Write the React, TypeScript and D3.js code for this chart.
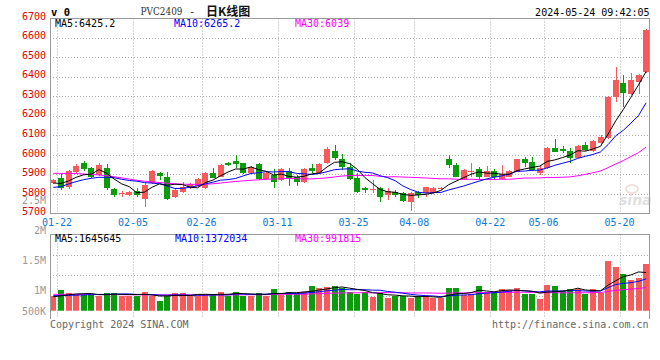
import React from 'react';
import * as d3 from 'd3';

const dates = [
  '01-22','01-23','01-24','01-25','01-26','01-29','01-30','01-31','02-01','02-02',
  '02-05','02-06','02-07','02-08','02-19','02-20','02-21','02-22','02-23','02-26',
  '02-27','02-28','02-29','03-01','03-04','03-05','03-06','03-07','03-08','03-11',
  '03-12','03-13','03-14','03-15','03-18','03-19','03-20','03-21','03-22','03-25',
  '03-26','03-27','03-28','03-29','04-01','04-02','04-03','04-08','04-09','04-10',
  '04-11','04-12','04-15','04-16','04-17','04-18','04-19','04-22','04-23','04-24',
  '04-25','04-26','04-29','04-30','05-06','05-07','05-08','05-09','05-10','05-13',
  '05-14','05-15','05-16','05-17','05-20','05-21','05-22','05-23','05-24'
];

const openP = [
  5854,5880,5837,5911,5957,5931,5897,5931,5824,5801,
  5795,5817,5772,5854,5905,5888,5783,5808,5837,5842,
  5829,5905,5888,5960,5970,5957,5905,5952,5876,5899,
  5871,5919,5885,5861,5931,5905,5957,6021,5979,5936,
  5883,5829,5820,5829,5795,5808,5803,5760,5812,5803,
  5803,5827,5977,5948,5877,5917,5926,5888,5919,5875,
  5888,5914,5979,5962,5906,5931,6037,6028,6020,5986,
  6050,6020,6062,6085,6298,6369,6311,6374,6422
];
const highP = [
  5876,5905,5923,5953,5969,5940,5957,5953,5829,5817,
  5817,5829,5854,5920,5910,5910,5829,5863,5855,5880,
  5914,5931,5952,5962,5999,5960,5945,5957,5910,5926,
  5934,5931,5897,5931,5953,5957,6042,6050,6003,5957,
  5905,5837,5871,5837,5829,5820,5812,5812,5817,5837,
  5834,5837,5999,5957,5926,5957,5940,5943,5926,5948,
  5920,5980,5987,5987,5945,6040,6081,6047,6037,6050,
  6064,6074,6102,6302,6448,6408,6417,6412,6644
];
const lowP = [
  5849,5820,5827,5909,5919,5880,5893,5820,5786,5786,
  5790,5786,5735,5850,5871,5771,5778,5803,5825,5837,
  5825,5880,5885,5943,5931,5900,5900,5871,5871,5832,
  5866,5841,5842,5856,5905,5900,5952,5974,5922,5871,
  5803,5803,5803,5760,5769,5786,5760,5714,5778,5786,
  5800,5820,5931,5885,5873,5888,5871,5885,5871,5871,
  5885,5911,5940,5919,5897,5928,6013,6008,5960,5983,
  6021,6016,6050,6080,6272,6247,6305,6311,6420
];
const closeP = [
  5871,5829,5919,5943,5928,5885,5948,5829,5793,5803,
  5812,5793,5846,5917,5892,5774,5820,5837,5849,5876,
  5909,5883,5948,5946,5953,5905,5940,5876,5905,5859,
  5928,5880,5859,5926,5919,5953,6030,5982,5936,5875,
  5808,5820,5825,5786,5817,5795,5764,5803,5795,5834,
  5829,5829,5948,5888,5923,5919,5885,5917,5885,5900,
  5917,5977,5960,5923,5935,6037,6016,6020,5986,6047,
  6025,6071,6090,6298,6383,6318,6383,6408,6639
];
const volumes = [
  648000,894000,779000,678000,678000,678000,648000,779000,779000,648000,
  648000,648000,807000,648000,420000,648000,779000,779000,648000,648000,
  678000,736000,821000,648000,821000,648000,648000,779000,648000,951000,
  678000,821000,779000,821000,1079000,965000,1036000,1065000,965000,821000,
  707000,793000,605000,779000,549000,634000,634000,549000,634000,620000,
  540000,540000,980000,980000,670000,740000,1050000,810000,810000,920000,
  880000,980000,710000,710000,520000,1090000,1050000,850000,920000,937000,
  707000,937000,779000,2142000,1884000,1582000,1323000,1424000,2013000
];

// moving-average values before enough bars are visible
const ma5Head = [5856, 5854, 5866, 5885];
const ma10Head = [5834, 5837, 5851, 5863, 5873, 5880, 5885, 5885, 5883];
const ma30Head = [5906, 5905, 5905, 5904, 5902, 5900, 5897, 5893, 5888, 5882, 5876, 5870, 5865, 5862, 5858, 5855, 5852, 5850, 5849, 5849, 5850, 5852, 5856, 5860, 5864, 5867, 5870, 5872, 5875];
const volMa5Head = [603000, 640000, 690000, 720000];
const volMa10Head = [647000, 650000, 660000, 670000, 680000, 690000, 700000, 705000, 712000];
const volMa30Head = [707000, 705000, 704000, 701000, 699000, 697000, 695000, 694000, 691000, 689000, 687000, 685000, 684000, 683000, 682000, 681000, 680000, 680000, 680000, 680000, 681000, 682000, 683000, 684000, 685000, 686000, 687000, 688000, 690000];

const xTickDates = ['01-22', '02-05', '02-26', '03-11', '03-25', '04-08', '04-22', '05-06', '05-20'];
const priceTicks = [5700, 5800, 5900, 6000, 6100, 6200, 6300, 6400, 6500, 6600, 6700];
const volTickValues = [2500000, 2000000, 1500000, 1000000, 500000];
const volTickLabels = ['2.5M', '2M', '1.5M', '1M', '500K'];

const header = { ma5: 'MA5:6425.2', ma10: 'MA10:6265.2', ma30: 'MA30:6039' };
const volHeader = { ma5: 'MA5:1645645', ma10: 'MA10:1372034', ma30: 'MA30:991815' };

const RED = '#f65a5a';
const GREEN = '#0b9c0b';
const MONO = "'DejaVu Sans Mono', monospace";

function movingAvg(values: number[], n: number, head: number[]): number[] {
  return values.map((_, i) => (i >= n - 1 ? (d3.mean(values.slice(i - n + 1, i + 1)) as number) : head[i]));
}

export default function App() {
  const L = 50, R = 649.5;
  const pTop = 18.5, pBot = 213.5;
  const vTop = 234.5, vBot = 310.7, vGridBot = 316;

  const x = d3.scalePoint<string>().domain(dates).range([49.5, 649.9]).padding(0.5);
  const step = x.step();
  const yP = d3.scaleLinear().domain([5700, 6700]).range([213.5, 18]);
  const yV = d3.scaleLinear().domain([0, 1000000]).range([vBot, vBot - 23.2]);
  const yVLabel = d3.scaleLinear().domain([1000000, 2500000]).range([290.5, 200.5]);

  const ma5 = movingAvg(closeP, 5, ma5Head);
  const ma10 = movingAvg(closeP, 10, ma10Head);
  const ma30 = movingAvg(closeP, 30, ma30Head);
  const vma5 = movingAvg(volumes, 5, volMa5Head);
  const vma10 = movingAvg(volumes, 10, volMa10Head);
  const vma30 = movingAvg(volumes, 30, volMa30Head);

  const cx = (i: number) => x(dates[i]) as number;
  const lineP = d3.line<number>().x((_, i) => cx(i)).y((d) => yP(d));
  const lineV = d3.line<number>().x((_, i) => cx(i)).y((d) => yV(d));

  const gridXs = xTickDates.map((d) => (x(d) as number) + step / 2);
  const volGridYs = [1, 2, 3].map((k) => vTop + ((vGridBot - vTop) * k) / 4);

  return (
    <svg width={660} height={360} style={{ position: 'absolute', left: 0, top: 0, background: '#fff' }}>
      <defs>
        <clipPath id="clipP"><rect x={L} y={pTop} width={R - L} height={pBot - pTop} /></clipPath>
        <clipPath id="clipV"><rect x={L} y={vTop} width={R - L} height={vBot - vTop} /></clipPath>
      </defs>
      <rect x={0} y={0} width={660} height={360} fill="#fff" />

      {/* header */}
      <text x={51} y={15.5} fontFamily={MONO} fontWeight="bold" fontSize={10.5} fill="#000">v 0</text>
      <text x={140.5} y={15} fontFamily="'DejaVu Serif', serif" fontSize={10.5} fill="#333" textLength={42} lengthAdjust="spacingAndGlyphs">PVC2409</text>
      <text x={189} y={15} fontFamily={MONO} fontSize={10.5} fill="#222">-</text>
      <text x={206} y={15.5} fontFamily="'Noto Sans CJK SC', sans-serif" fontWeight="bold" fontSize={12} fill="#111">日K线图</text>
      <text x={649.5} y={16} textAnchor="end" fontFamily={MONO} fontSize={10} fill="#000">2024-05-24 09:42:05</text>

      {/* price grid */}
      {priceTicks.slice(1, -1).map((t) => (
        <line key={'pg' + t} x1={L} x2={R} y1={Math.round(yP(t)) + 0.5} y2={Math.round(yP(t)) + 0.5} stroke="#aaa" strokeDasharray="1,2" />
      ))}
      {gridXs.map((gx, k) => (
        <line key={'pvg' + k} x1={Math.round(gx) + 0.5} x2={Math.round(gx) + 0.5} y1={pTop} y2={pBot} stroke="#aaa" strokeDasharray="1,2" />
      ))}

      {/* volume grid */}
      {volGridYs.map((gy, k) => (
        <line key={'vg' + k} x1={L} x2={R} y1={Math.round(gy) + 0.5} y2={Math.round(gy) + 0.5} stroke="#aaa" strokeDasharray="1,2" />
      ))}
      {gridXs.map((gx, k) => (
        <line key={'vvg' + k} x1={Math.round(gx) + 0.5} x2={Math.round(gx) + 0.5} y1={vTop} y2={vGridBot + 2} stroke="#aaa" strokeDasharray="1,2" />
      ))}

      {/* sina watermark */}
      <g opacity={0.55}>
        <ellipse cx={632} cy={189} rx={6} ry={4} fill="none" stroke="#e3b8b8" strokeWidth={1.5} />
        <text x={619} y={205} fontFamily="'DejaVu Sans', sans-serif" fontStyle="italic" fontWeight="bold" fontSize={14} fill="#c8c8c8">sina</text>
      </g>

      {/* candles */}
      <g clipPath="url(#clipP)" shapeRendering="crispEdges">
        {dates.map((d, i) => {
          const up = closeP[i] >= openP[i];
          const col = up ? RED : GREEN;
          const xr = Math.round(cx(i) - 3);
          const top = Math.round(yP(Math.max(openP[i], closeP[i])));
          const bot = Math.round(yP(Math.min(openP[i], closeP[i])));
          return (
            <g key={'c' + d}>
              <line x1={xr + 3.5} x2={xr + 3.5} y1={Math.round(yP(highP[i]))} y2={Math.round(yP(lowP[i]))} stroke={col} strokeWidth={1} />
              <rect x={xr} y={top} width={6} height={Math.max(1, bot - top)} fill={col} />
            </g>
          );
        })}
      </g>
      <g clipPath="url(#clipP)" fill="none" strokeWidth={1}>
        <path d={lineP(ma30) || ''} stroke="#ff00ff" />
        <path d={lineP(ma10) || ''} stroke="#0000ff" />
        <path d={lineP(ma5) || ''} stroke="#000" />
      </g>

      {/* volume bars */}
      <g clipPath="url(#clipV)" shapeRendering="crispEdges">
        {dates.map((d, i) => {
          const up = closeP[i] >= openP[i];
          const xr = Math.round(cx(i) - 3);
          const top = Math.round(yV(volumes[i]));
          return <rect key={'v' + d} x={xr} y={top} width={6} height={Math.round(vBot) - top} fill={up ? RED : GREEN} />;
        })}
      </g>
      <g clipPath="url(#clipV)" fill="none" strokeWidth={1}>
        <path d={lineV(vma30) || ''} stroke="#ff00ff" />
        <path d={lineV(vma10) || ''} stroke="#0000ff" />
        <path d={lineV(vma5) || ''} stroke="#000" />
      </g>

      {/* borders */}
      <g fill="none" stroke="#999" shapeRendering="crispEdges">
        <line x1={L} x2={R} y1={pTop} y2={pTop} />
        <line x1={L} x2={R} y1={pBot} y2={pBot} />
        <line x1={L} x2={L} y1={pTop} y2={pBot} />
        <line x1={R} x2={R} y1={pTop} y2={pBot} />
        <line x1={L} x2={R} y1={vTop} y2={vTop} />
        <line x1={L} x2={L} y1={vTop} y2={319} />
        <line x1={R} x2={R} y1={vTop} y2={319} />
      </g>

      {/* MA headers */}
      <rect x={52} y={19.5} width={240} height={9} fill="#fff" opacity={0} />
      <text x={55} y={27.3} fontFamily={MONO} fontSize={10} fill="#000">{header.ma5}</text>
      <text x={174} y={27.3} fontFamily={MONO} fontSize={10} fill="#0000ff">{header.ma10}</text>
      <text x={295} y={27.3} fontFamily={MONO} fontSize={10} fill="#ff00ff">{header.ma30}</text>
      <text x={55} y={242.3} fontFamily={MONO} fontSize={10} fill="#000">{volHeader.ma5}</text>
      <text x={175} y={242.3} fontFamily={MONO} fontSize={10} fill="#0000ff">{volHeader.ma10}</text>
      <text x={295} y={242.3} fontFamily={MONO} fontSize={10} fill="#ff00ff">{volHeader.ma30}</text>

      {/* price axis labels */}
      {priceTicks.map((t) => (
        <text key={'pl' + t} x={46} y={yP(t) + 1.7} textAnchor="end" fontFamily={MONO} fontSize={10} fill="#e00000">{t}</text>
      ))}
      {/* volume axis labels */}
      {volTickValues.map((v, k) => (
        <text key={'vl' + v} x={46} y={Math.min(yVLabel(v), 311) + 3.6} textAnchor="end" fontFamily={MONO} fontSize={10} fill="#999">{volTickLabels[k]}</text>
      ))}
      {/* date labels */}
      {xTickDates.map((d, k) => (
        <text key={'xl' + d} x={gridXs[k]} y={225.5} textAnchor="middle" fontFamily={MONO} fontSize={10} fill="#0a78d8">{d}</text>
      ))}

      {/* footer */}
      <text x={50} y={327.6} fontFamily={MONO} fontSize={10} fill="#666">Copyright 2024 SINA.COM</text>
      <text x={648.5} y={327.6} textAnchor="end" fontFamily={MONO} fontSize={10} fill="#666">http://finance.sina.com.cn</text>
    </svg>
  );
}
